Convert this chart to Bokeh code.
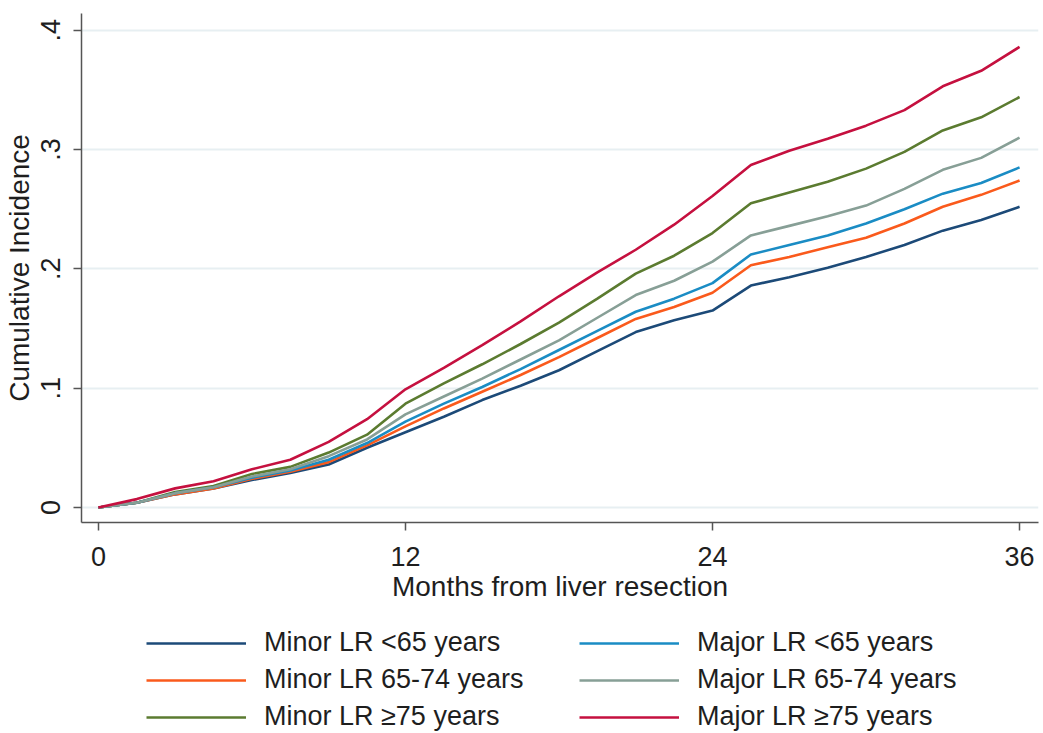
from bokeh.plotting import figure
from bokeh.layouts import column
from bokeh.models import (Range1d, FixedTicker, CustomJSTickFormatter, Legend, LegendItem)
from bokeh.embed import file_html
from bokeh.resources import INLINE

months = [0, 1.5, 3, 4.5, 6, 7.5, 9, 10.5, 12, 13.5, 15, 16.5, 18, 19.5, 21,
          22.5, 24, 25.5, 27, 28.5, 30, 31.5, 33, 34.5, 36]

minor_lt65 = [0, 0.004, 0.011, 0.016, 0.023, 0.029, 0.036, 0.050, 0.063, 0.076, 0.090, 0.102,
              0.115, 0.131, 0.147, 0.157, 0.165, 0.186, 0.193, 0.201, 0.210, 0.220, 0.232, 0.241, 0.252]
minor_65_74 = [0, 0.004, 0.011, 0.016, 0.024, 0.030, 0.038, 0.052, 0.068, 0.083, 0.097, 0.111,
               0.126, 0.142, 0.158, 0.168, 0.180, 0.203, 0.210, 0.218, 0.226, 0.238, 0.252, 0.262, 0.274]
minor_ge75 = [0, 0.004, 0.013, 0.018, 0.028, 0.034, 0.046, 0.061, 0.087, 0.104, 0.120, 0.137,
              0.155, 0.175, 0.196, 0.211, 0.230, 0.255, 0.264, 0.273, 0.284, 0.298, 0.316, 0.327, 0.344]
major_lt65 = [0, 0.004, 0.012, 0.017, 0.025, 0.031, 0.040, 0.054, 0.072, 0.087, 0.101, 0.116,
              0.132, 0.148, 0.164, 0.175, 0.188, 0.212, 0.220, 0.228, 0.238, 0.250, 0.263, 0.272, 0.285]
major_65_74 = [0, 0.004, 0.012, 0.017, 0.026, 0.032, 0.043, 0.057, 0.078, 0.093, 0.108, 0.124,
               0.140, 0.159, 0.178, 0.190, 0.206, 0.228, 0.236, 0.244, 0.253, 0.267, 0.283, 0.293, 0.310]
major_ge75 = [0, 0.007, 0.016, 0.022, 0.032, 0.040, 0.055, 0.074, 0.099, 0.117, 0.136, 0.156,
              0.177, 0.197, 0.216, 0.237, 0.261, 0.287, 0.299, 0.309, 0.320, 0.333, 0.353, 0.366, 0.386]

series_labels = ["Minor LR <65 years", "Minor LR 65-74 years", "Minor LR \u226575 years",
                 "Major LR <65 years", "Major LR 65-74 years", "Major LR \u226575 years"]
series_values = [minor_lt65, minor_65_74, minor_ge75, major_lt65, major_65_74, major_ge75]
series_colors = ["#1c4a78", "#fa5a1c", "#5b7b30", "#1a8cc4", "#879f96", "#c5103f"]

x_ticks = [0, 12, 24, 36]
y_ticks = [0, 0.1, 0.2, 0.3, 0.4]

FONT = "Liberation Sans"
TXT = "#1e1e1e"
LW = 2.6

p = figure(frame_width=957, frame_height=509, output_backend="svg", toolbar_location=None,
           x_range=Range1d(-0.66, 36.74), y_range=Range1d(-0.0126, 0.414),
           min_border_left=75, min_border_right=3, min_border_top=13, min_border_bottom=90)
p.outline_line_color = None
p.background_fill_color = "white"
p.border_fill_color = "white"
p.xgrid.grid_line_color = None
p.ygrid.grid_line_color = "#e7eff2"
p.ygrid.grid_line_width = 2

for vals, col in zip(series_values, series_colors):
    p.line(months, vals, line_color=col, line_width=LW)

for ax in (p.xaxis[0], p.yaxis[0]):
    ax.axis_line_color = "#555555"
    ax.axis_line_width = 1.5
    ax.major_tick_line_color = "#555555"
    ax.major_tick_line_width = 1.5
    ax.major_tick_out = 8
    ax.major_tick_in = 0
    ax.minor_tick_line_color = None
    ax.major_label_text_font = FONT
    ax.major_label_text_font_size = "27px"
    ax.major_label_text_color = TXT
    ax.axis_label_text_font = FONT
    ax.axis_label_text_font_size = "28px"
    ax.axis_label_text_font_style = "normal"
    ax.axis_label_text_color = TXT

p.xaxis.ticker = FixedTicker(ticks=x_ticks)
p.xaxis.axis_label = "Months from liver resection"
p.xaxis.major_label_standoff = 16
p.xaxis.axis_label_standoff = 2

p.yaxis.ticker = FixedTicker(ticks=y_ticks)
p.yaxis.formatter = CustomJSTickFormatter(
    code="return tick == 0 ? '0' : tick.toFixed(1).replace(/^0/, '');")
p.yaxis.major_label_orientation = "vertical"
p.yaxis.axis_label = "Cumulative Incidence"
p.yaxis.major_label_standoff = 13
p.yaxis.axis_label_standoff = 4

# legend panel below the chart (its lines lie outside its view; only the key is shown)
lf = figure(width=1035, height=121, output_backend="svg", toolbar_location=None,
            x_axis_location=None, y_axis_location=None, min_border=0,
            x_range=Range1d(0, 1), y_range=Range1d(5, 6))
lf.outline_line_color = None
lf.grid.grid_line_color = None
lf.border_fill_color = "white"
items = []
for lab, vals, col in zip(series_labels, series_values, series_colors):
    r = lf.line(months, vals, line_color=col, line_width=LW)
    items.append(LegendItem(label=lab, renderers=[r]))
legend = Legend(items=items, orientation="vertical", ncols=2,
                border_line_color=None, background_fill_alpha=0,
                label_text_font=FONT, label_text_font_size="27px", label_text_color=TXT,
                glyph_width=100, glyph_height=30, label_standoff=18, label_width=309,
                spacing=6, padding=0, margin=0)
lf.add_layout(legend, "center")
legend.location = (65, 1)

layout = column(p, lf, spacing=0)
open("out.html", "w").write(file_html(layout, INLINE))
